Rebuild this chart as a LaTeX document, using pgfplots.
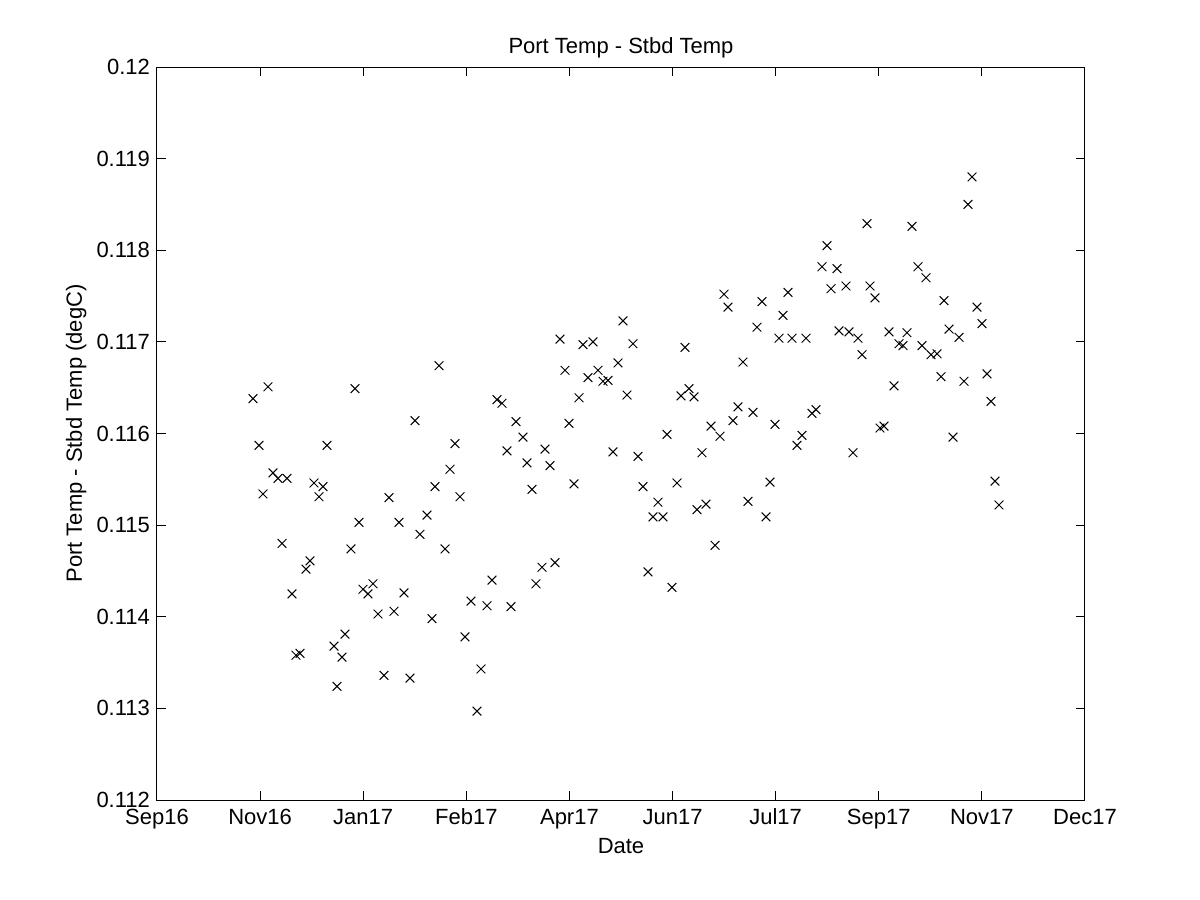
\documentclass[border=0pt]{standalone}
\usepackage{pgfplots}
\pgfplotsset{compat=1.18}
\usepackage{pgfplotstable}
\usepackage{fontspec}
\setmainfont{Liberation Sans}

\pgfplotstableread{
x y
46.55 0.11638
49.46 0.11587
51.40 0.11534
53.83 0.11651
56.25 0.11557
58.68 0.11551
60.62 0.11480
63.04 0.11551
65.46 0.11425
67.40 0.11358
69.34 0.11360
72.25 0.11452
74.19 0.11461
76.13 0.11546
78.56 0.11531
80.50 0.11542
82.44 0.11587
85.83 0.11368
87.29 0.11324
89.71 0.11356
91.16 0.11381
94.07 0.11474
96.01 0.11649
97.95 0.11503
99.89 0.11430
102.32 0.11425
104.74 0.11436
107.17 0.11403
110.08 0.11336
112.50 0.11530
114.93 0.11406
117.35 0.11503
119.78 0.11426
122.68 0.11333
125.11 0.11614
127.53 0.11490
130.93 0.11511
133.35 0.11398
134.81 0.11542
136.75 0.11674
139.66 0.11474
142.08 0.11561
144.51 0.11589
146.93 0.11531
149.36 0.11378
152.26 0.11417
155.17 0.11297
157.11 0.11343
160.02 0.11412
162.45 0.11440
164.87 0.11637
167.30 0.11633
169.72 0.11581
171.66 0.11411
174.09 0.11613
177.48 0.11596
179.42 0.11568
181.85 0.11539
183.78 0.11436
186.69 0.11454
188.15 0.11583
190.57 0.11565
193.00 0.11459
195.42 0.11703
197.85 0.11669
199.79 0.11611
202.21 0.11545
204.64 0.11639
206.58 0.11697
209.00 0.11661
211.43 0.11700
213.85 0.11669
216.27 0.11657
218.70 0.11658
221.12 0.11580
223.55 0.11677
225.97 0.11723
227.91 0.11642
230.82 0.11698
233.25 0.11575
235.67 0.11542
238.10 0.11449
240.52 0.11509
242.94 0.11525
245.37 0.11509
247.31 0.11599
249.73 0.11432
252.16 0.11546
254.10 0.11641
256.04 0.11694
257.98 0.11649
260.40 0.11640
261.86 0.11517
264.28 0.11579
266.22 0.11523
268.65 0.11608
270.59 0.11478
273.01 0.11597
274.95 0.11752
276.89 0.11738
279.31 0.11614
281.74 0.11629
284.16 0.11678
286.59 0.11526
289.01 0.11623
290.95 0.11716
293.38 0.11744
295.32 0.11509
297.26 0.11547
299.68 0.11610
301.62 0.11704
303.56 0.11729
305.98 0.11754
307.92 0.11704
310.35 0.11587
312.77 0.11598
314.71 0.11704
317.62 0.11622
319.56 0.11626
322.47 0.11782
324.90 0.11805
326.84 0.11758
329.75 0.11780
330.72 0.11712
334.11 0.11761
335.56 0.11711
337.50 0.11579
339.93 0.11704
341.87 0.11686
344.29 0.11829
345.75 0.11761
348.17 0.11748
350.60 0.11606
352.54 0.11608
354.96 0.11711
357.39 0.11652
359.81 0.11698
361.75 0.11696
363.69 0.11710
366.11 0.11826
369.02 0.11782
370.96 0.11696
372.90 0.11770
375.33 0.11686
378.24 0.11687
380.18 0.11662
381.63 0.11745
384.06 0.11714
386.00 0.11596
388.91 0.11705
391.33 0.11657
393.27 0.11850
395.21 0.11880
397.63 0.11738
400.06 0.11720
402.48 0.11665
404.42 0.11635
406.36 0.11548
408.30 0.11522
}\data

\begin{document}
\begin{tikzpicture}[font=\fontsize{11}{13}\selectfont]
\path[use as bounding box] (-78.5pt,-50pt) rectangle (521.5pt,400pt);
\begin{axis}[
  at={(0pt,0pt)}, anchor=south west,
  scale only axis, width=464pt, height=366.5pt,
  xmin=0, xmax=450, ymin=0.112, ymax=0.12,
  xtick={0,50,100,150,200,250,300,350,400,450},
  xticklabels={Sep16,Nov16,Jan17,Feb17,Apr17,Jun17,Jul17,Sep17,Nov17,Dec17},
  ytick={0.112,0.113,0.114,0.115,0.116,0.117,0.118,0.119,0.12},
  scaled y ticks=false,
  yticklabel style={/pgf/number format/fixed, /pgf/number format/precision=3},
  /pgf/number format/assume math mode=true,
  tick align=inside, major tick length=4.5pt,
  tick style={black, line width=0.5pt},
  axis line style={black, line width=0.5pt},
  xticklabel style={anchor=base, yshift=-12.5pt},
  title={Port Temp - Stbd Temp},
  every axis title/.style={at={(axis description cs:0.5,1)}, anchor=base, yshift=7pt},
  xlabel={Date},
  every axis x label/.style={at={(axis description cs:0.5,0)}, anchor=base, yshift=-26.5pt},
  ylabel={Port Temp - Stbd Temp (degC)},
  every axis y label/.style={at={([xshift=-37.5pt]axis description cs:0,0.5)}, rotate=90, anchor=base},
]
\addplot[only marks, mark=x, mark size=3.1pt, black, line width=0.5pt] table {\data};
\end{axis}
\end{tikzpicture}
\end{document}
